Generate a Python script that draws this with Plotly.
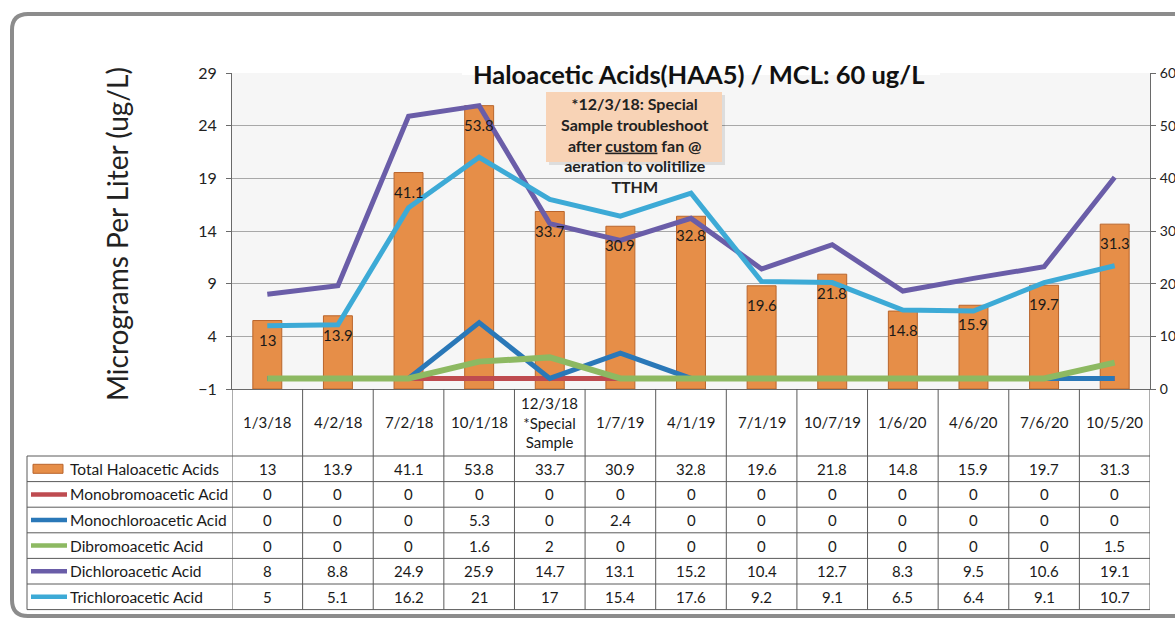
import plotly.graph_objects as go

# ---------------- data ----------------
categories = ["1/3/18", "4/2/18", "7/2/18", "10/1/18", "12/3/18<br>*Special<br>Sample",
              "1/7/19", "4/1/19", "7/1/19", "10/7/19", "1/6/20", "4/6/20", "7/6/20", "10/5/20"]
total_haa = [13, 13.9, 41.1, 53.8, 33.7, 30.9, 32.8, 19.6, 21.8, 14.8, 15.9, 19.7, 31.3]
monobromo = [0, 0, 0, 0, 0, 0, 0, 0, 0, 0, 0, 0, 0]
monochloro = [0, 0, 0, 5.3, 0, 2.4, 0, 0, 0, 0, 0, 0, 0]
dibromo = [0, 0, 0, 1.6, 2, 0, 0, 0, 0, 0, 0, 0, 1.5]
dichloro = [8, 8.8, 24.9, 25.9, 14.7, 13.1, 15.2, 10.4, 12.7, 8.3, 9.5, 10.6, 19.1]
trichloro = [5, 5.1, 16.2, 21, 17, 15.4, 17.6, 9.2, 9.1, 6.5, 6.4, 9.1, 10.7]
left_ticks = [-1, 4, 9, 14, 19, 24, 29]
right_ticks = [0, 10, 20, 30, 40, 50, 60]

title_text = "Haloacetic Acids(HAA5) / MCL: 60 ug/L"
ytitle_text = "Micrograms Per Liter (ug/L)"
note_text = ("*12/3/18: Special<br>Sample troubleshoot<br>after <u>custom</u> fan @"
             "<br>aeration to volitilize<br>TTHM")

# ---------------- styling ----------------
FONT = "Lato"
W, H = 1175, 620
L, R, T, B = 232, 1150, 73, 389          # plot area in pixels
BAR_COLOR = "#E68E48"
BAR_EDGE = "#B9652C"
series = [
    ("Monobromoacetic Acid", monobromo, "#BE4B50", 5),
    ("Monochloroacetic Acid", monochloro, "#2A78B8", 5),
    ("Dibromoacetic Acid", dibromo, "#8DB962", 6),
    ("Dichloroacetic Acid", dichloro, "#6A5DA8", 5),
    ("Trichloroacetic Acid", trichloro, "#3DAAD6", 5),
]


def px(p):
    return (p - L) / (R - L)


def py(p):
    return (B - p) / (B - T)


fig = go.Figure()

# bars on primary (right side) axis, lines on overlaying left axis (drawn above)
fig.add_trace(go.Bar(
    x=categories, y=total_haa, yaxis="y", width=0.41,
    marker=dict(color=BAR_COLOR, line=dict(color=BAR_EDGE, width=1)),
    name="Total Haloacetic Acids", showlegend=False, hoverinfo="skip"))

for name, vals, color, lw in series:
    fig.add_trace(go.Scatter(
        x=categories, y=vals, yaxis="y2", mode="lines",
        line=dict(color=color, width=lw), name=name, showlegend=False))

shapes = []
annotations = []

# outer rounded border
x0, y0, x1, y1, r = 12, 14, 1195, 616, 16
path = (f"M {px(x0)},{py(y0 + r)} L {px(x0)},{py(y1 - r)} "
        f"Q {px(x0)},{py(y1)} {px(x0 + r)},{py(y1)} L {px(x1)},{py(y1)} "
        f"L {px(x1)},{py(y0)} L {px(x0 + r)},{py(y0)} "
        f"Q {px(x0)},{py(y0)} {px(x0)},{py(y0 + r)} Z")
shapes.append(dict(type="path", xref="paper", yref="paper", path=path,
                   line=dict(color="#8C8C8C", width=4), layer="below"))

# title with white backing
shapes.append(dict(type="rect", xref="paper", yref="paper",
                   x0=px(462), x1=px(940), y0=py(35), y1=py(75),
                   fillcolor="white", line=dict(width=0), layer="above"))
annotations.append(dict(text=f"<b>{title_text}</b>", x=px(698), y=py(57),
                        xref="paper", yref="paper", showarrow=False,
                        font=dict(family=FONT, size=25.5, color="#111")))

# y axis title
annotations.append(dict(text=ytitle_text, x=px(98), y=py(234), xref="paper", yref="paper",
                        showarrow=False, textangle=-90,
                        font=dict(family=FONT, size=28, color="#222")))

# bar value labels
for c, v in zip(categories, total_haa):
    annotations.append(dict(text=f"{v:g}", x=c, y=v, xref="x", yref="y",
                            yshift=-19, showarrow=False,
                            font=dict(family=FONT, size=15, color="#1a1a1a")))

# note box
shapes.append(dict(type="rect", xref="paper", yref="paper",
                   x0=px(549), x1=px(725), y0=py(95), y1=py(165),
                   fillcolor="rgba(0,0,0,0.10)", line=dict(width=0), layer="above"))
shapes.append(dict(type="rect", xref="paper", yref="paper",
                   x0=px(546), x1=px(722), y0=py(92), y1=py(162),
                   fillcolor="#F8D3B6", line=dict(width=0), layer="above"))
annotations.append(dict(text=f"<b>{note_text}</b>", x=px(634), y=py(92),
                        xref="paper", yref="paper", yanchor="top", showarrow=False,
                        font=dict(family=FONT, size=16, color="#222")))

# ---------------- data table ----------------
TBL_L, HDR_B, ROW_H = 27, 456, 25.6
LINE = dict(color="#5A5A5A", width=1)
n = len(categories)
rows = [("Total Haloacetic Acids", total_haa, None, 0)] + [(s[0], s[1], s[2], s[3]) for s in series]
tbl_bottom = HDR_B + ROW_H * len(rows)

# horizontal lines
for k in range(len(rows) + 1):
    yy = HDR_B + ROW_H * k
    shapes.append(dict(type="line", xref="paper", yref="paper", x0=px(TBL_L), x1=px(R),
                       y0=py(yy), y1=py(yy), line=LINE))
# vertical lines
shapes.append(dict(type="line", xref="paper", yref="paper", x0=px(TBL_L), x1=px(TBL_L),
                   y0=py(HDR_B), y1=py(tbl_bottom), line=LINE))
for k in range(n + 1):
    shapes.append(dict(type="line", xref="x", yref="paper", x0=k - 0.5, x1=k - 0.5,
                       y0=py(B), y1=py(tbl_bottom), line=LINE))

# header labels
for c in categories:
    annotations.append(dict(text=c, x=c, y=py((B + HDR_B) / 2), xref="x", yref="paper",
                            showarrow=False, yanchor="middle",
                            font=dict(family=FONT, size=15, color="#1a1a1a")))

# rows
for k, (name, vals, color, lw) in enumerate(rows):
    yc = HDR_B + ROW_H * (k + 0.5)
    if color is None:
        shapes.append(dict(type="rect", xref="paper", yref="paper",
                           x0=px(33), x1=px(63), y0=py(yc - 4.5), y1=py(yc + 4.5),
                           fillcolor=BAR_COLOR, line=dict(color=BAR_EDGE, width=1)))
    else:
        shapes.append(dict(type="line", xref="paper", yref="paper",
                           x0=px(31), x1=px(67), y0=py(yc), y1=py(yc),
                           line=dict(color=color, width=4.5)))
    annotations.append(dict(text=name, x=px(68), y=py(yc), xref="paper", yref="paper",
                            xanchor="left", yanchor="middle", showarrow=False,
                            font=dict(family=FONT, size=15.5, color="#1a1a1a")))
    for c, v in zip(categories, vals):
        annotations.append(dict(text=f"{v:g}", x=c, y=py(yc), xref="x", yref="paper",
                                showarrow=False, yanchor="middle",
                                font=dict(family=FONT, size=15, color="#1a1a1a")))

fig.update_layout(
    width=W, height=H,
    margin=dict(l=L, r=W - R, t=T, b=H - B, autoexpand=False),
    paper_bgcolor="white", plot_bgcolor="#F6F6F6",
    showlegend=False,
    font=dict(family=FONT, size=14, color="#222"),
    xaxis=dict(type="category", range=[-0.5, n - 0.5], showticklabels=False,
               showgrid=False, showline=True, linecolor="#6A6A6A", ticks="",
               fixedrange=True),
    yaxis=dict(side="right", range=[0, 60], tickvals=right_ticks, showgrid=True,
               gridcolor="#A8A8A8", gridwidth=1, zeroline=False, showline=True,
               linecolor="#6A6A6A", ticks="outside", ticklen=5, tickcolor="#6A6A6A",
               ticklabelstandoff=1, tickfont=dict(family=FONT, size=14, color="#222")),
    yaxis2=dict(side="left", overlaying="y", range=[-1, 29], tickvals=left_ticks,
                showgrid=False, zeroline=False, showline=True, linecolor="#6A6A6A",
                ticks="outside", ticklen=5, tickcolor="#6A6A6A", ticklabelstandoff=6,
                tickfont=dict(family=FONT, size=16, color="#222")),
    shapes=shapes, annotations=annotations,
)

fig.write_html("out.html", config={"displayModeBar": False},
               post_script="document.body.style.margin='0';document.body.style.overflow='hidden';")
